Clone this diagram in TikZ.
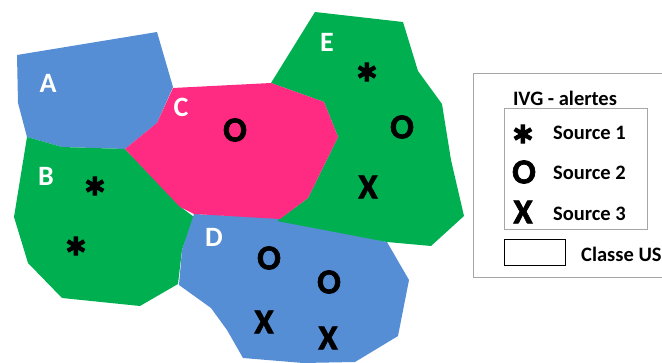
\documentclass[tikz,border=0pt]{standalone}
\usepackage{fontspec}
\setmainfont{Carlito}
\newfontfamily\heavyfont[BoldFeatures={FakeBold=2}]{Carlito}
\definecolor{zoneblue}{HTML}{558ED5}
\definecolor{zonegreen}{HTML}{00B050}
\definecolor{zonepink}{HTML}{FF2A82}
\definecolor{legendgray}{HTML}{A6A6A6}
\tikzset{
    zonelabel/.style={text=white, font=\bfseries\fontsize{28}{28}\selectfont, inner sep=0pt},
    srcO/.style={font=\heavyfont\bfseries\fontsize{35}{35}\selectfont, inner sep=0pt},
    srcX/.style={font=\heavyfont\bfseries\fontsize{35}{35}\selectfont, inner sep=0pt},
    srcstar/.style={font=\heavyfont\bfseries\fontsize{56}{56}\selectfont, inner sep=0pt, text height=10pt, text depth=0pt, yshift=-26pt},
    legendtext/.style={font=\bfseries\fontsize{20.5}{20.5}\selectfont, inner sep=0pt}
}

\begin{document}
\begin{tikzpicture}[x=1pt, y=-1pt]
            \useasboundingbox (0,0) rectangle (662,363);
            \clip (0,0) rectangle (662,363);
            % zones
            \fill[zoneblue] (17,55) -- (157,32) -- (173,87) -- (157,123) -- (125,149) -- (62,147) -- (27,137) -- (18,103) -- cycle;
            \fill[zonegreen] (27,137) -- (62,147) -- (125,149) -- (182,208) -- (194,217) -- (182,250) -- (178,284) -- (140,306) -- (62,298) -- (28,263) -- (14,217) -- cycle;
            \fill[zoneblue] (194,214) -- (280,218) -- (387,242) -- (409,280) -- (398,336) -- (355,362) -- (303,363) -- (243,358) -- (227,330) -- (211,308) -- (179,285) -- (182,250) -- cycle;
            \fill[zonegreen] (315,12) -- (403,22) -- (418,71) -- (442,104) -- (451,160) -- (464,216) -- (431,246) -- (387,242) -- (277,221) -- (308,198) -- (338,137) -- (324,102) -- (271,83) -- cycle;
            \fill[zonepink] (173,88) -- (271,83) -- (324,102) -- (338,137) -- (308,198) -- (280,219) -- (194,214) -- (180,207) -- (125,149) -- (157,123) -- cycle;
            % zone letters
            \foreach \name/\px/\py in {A/48/83, B/46/176, C/181/107, D/214/237, E/327/42} {
                \node[zonelabel] (zone\name) at (\px,\py) {\name};
            }
            % alerts
            \foreach \px/\py [count=\i] in {95/186, 76/246, 367/72} {
                \node[srcstar] (star\i) at (\px,\py) {*};
            }
            \foreach \px/\py [count=\i] in {235/130, 402/127, 269/258, 329/282} {
                \node[srcO] (circ\i) at (\px,\py) {O};
            }
            \foreach \px/\py [count=\i] in {368/187, 264/322, 328/338} {
                \node[srcX] (cross\i) at (\px,\py) {X};
            }
            % legend
            \draw[legendgray, line width=1pt] (473,74) rectangle (680,278);
            \draw[legendgray, line width=1pt] (504,109) rectangle (647,230);
            \draw[black, line width=1pt] (504,240) rectangle (565,266);
            \node[legendtext] (title) at (565,98) {IVG - alertes};
            \node[srcstar] (legstar) at (523,134) {*};
            \node[srcO] (legO) at (524,172) {O};
            \node[srcX] (legX) at (523,212) {X};
            \node[legendtext, anchor=west] (src1) at (553,133) {Source 1};
            \node[legendtext, anchor=west] (src2) at (553,173) {Source 2};
            \node[legendtext, anchor=west] (src3) at (553,214) {Source 3};
            \node[legendtext, anchor=west] (classe) at (581,254) {Classe US};
\end{tikzpicture}
\end{document}
